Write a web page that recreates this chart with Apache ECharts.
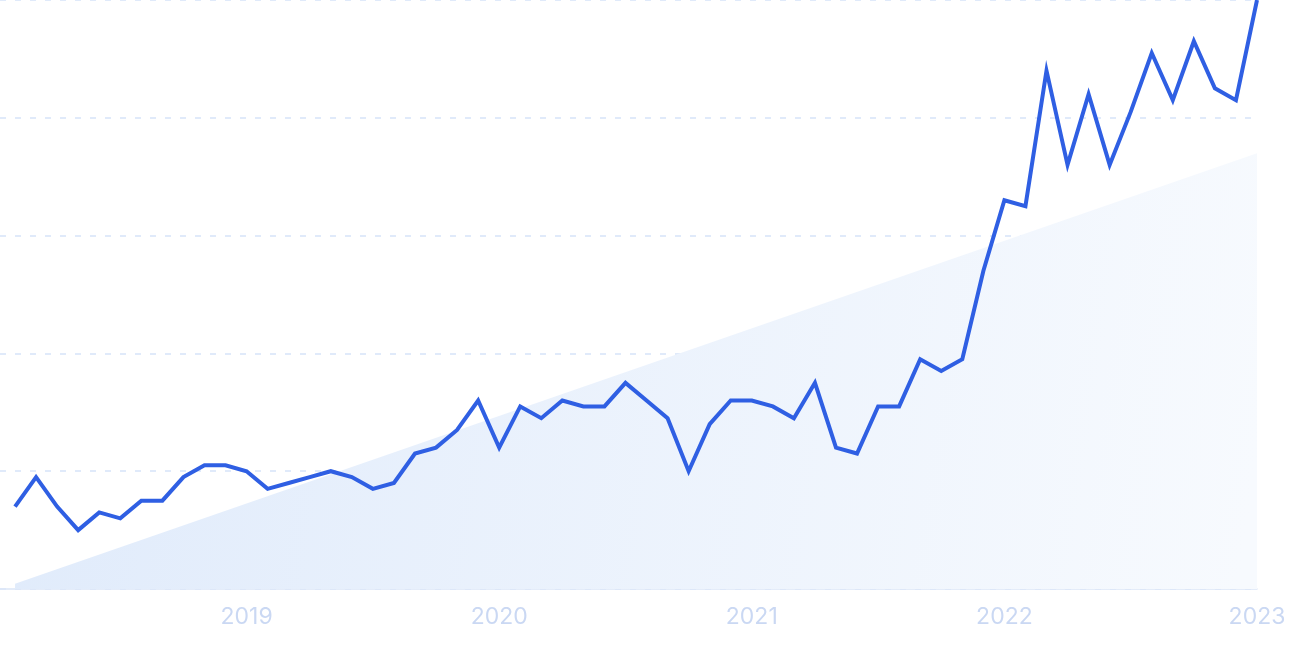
<!DOCTYPE html>
<html>
<head>
<meta charset="utf-8">
<script src="https://cdn.jsdelivr.net/npm/echarts@6/dist/echarts.min.js"></script>
<style>
html,body{margin:0;padding:0;background:#fff;}
#c{width:1290px;height:645px;}
</style>
</head>
<body>
<div id="c"></div>
<script>
const months = [
 '2018-02','2018-03','2018-04','2018-05','2018-06','2018-07','2018-08','2018-09','2018-10','2018-11','2018-12',
 '2019-01','2019-02','2019-03','2019-04','2019-05','2019-06','2019-07','2019-08','2019-09','2019-10','2019-11','2019-12',
 '2020-01','2020-02','2020-03','2020-04','2020-05','2020-06','2020-07','2020-08','2020-09','2020-10','2020-11','2020-12',
 '2021-01','2021-02','2021-03','2021-04','2021-05','2021-06','2021-07','2021-08','2021-09','2021-10','2021-11','2021-12',
 '2022-01','2022-02','2022-03','2022-04','2022-05','2022-06','2022-07','2022-08','2022-09','2022-10','2022-11','2022-12',
 '2023-01'
];
const interest = [
 14, 19, 14, 10, 13, 12, 15, 15, 19, 21, 21,
 20, 17, 18, 19, 20, 19, 17, 18, 23, 24, 27, 32,
 24, 31, 29, 32, 31, 31, 35, 32, 29, 20, 28, 32,
 32, 31, 29, 35, 24, 23, 31, 31, 39, 37, 39, 54,
 66, 65, 88, 72, 84, 72, 81, 91, 83, 93, 85, 83,
 100
];
const trendStart = 0.9;
const trendEnd = 74;
const yearLabels = [2019, 2020, 2021, 2022, 2023];

function toYear(m){ const [y, mo] = m.split('-').map(Number); return y + (mo - 1) / 12; }
const xs = months.map(toYear);
const lineData = xs.map((x, i) => [x, interest[i]]);
const trendData = [[xs[0], trendStart], [xs[xs.length - 1], trendEnd]];

const chart = echarts.init(document.getElementById('c'), null, {renderer: 'canvas'});
chart.setOption({
  animation: false,
  backgroundColor: '#ffffff',
  grid: {left: 0, right: 33, top: 0, bottom: 56, containLabel: false},
  xAxis: {
    type: 'value',
    min: xs[0] - 0.0595,
    max: xs[xs.length - 1],
    axisLine: {show: true, lineStyle: {color: '#dce6f7', width: 1.5}},
    axisTick: {show: false},
    splitLine: {show: false},
    axisLabel: {
      customValues: yearLabels,
      formatter: v => String(Math.round(v)),
      color: '#cad8f3',
      fontFamily: 'Inter',
      fontSize: 23,
      margin: 17,
      showMinLabel: true,
      showMaxLabel: true
    }
  },
  yAxis: {
    type: 'value',
    min: 0,
    max: 100,
    interval: 20,
    axisLine: {show: false},
    axisTick: {show: false},
    axisLabel: {show: false},
    splitLine: {show: true, lineStyle: {color: '#d6e3f9', type: [6, 9], width: 1.5}}
  },
  series: [
    {
      type: 'line',
      data: trendData,
      showSymbol: false,
      lineStyle: {width: 0},
      areaStyle: {
        opacity: 1,
        color: new echarts.graphic.LinearGradient(0, 0.3, 1, 0.7, [
          {offset: 0, color: '#e0ebfb'},
          {offset: 1, color: '#f7fafe'}
        ])
      },
      z: 1
    },
    {
      type: 'line',
      data: lineData,
      showSymbol: false,
      lineStyle: {color: '#2f5fe3', width: 4, join: 'miter'},
      z: 3
    }
  ]
});
</script>
</body>
</html>
